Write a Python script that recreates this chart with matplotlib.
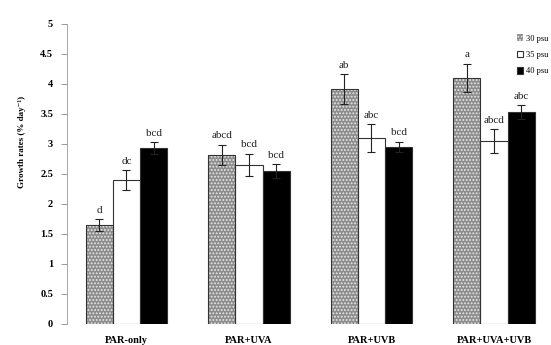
import matplotlib
matplotlib.use("Agg")
import matplotlib.pyplot as plt
import numpy as np

plt.rcParams['font.family'] = ['Liberation Serif', 'DejaVu Serif']
plt.rcParams['hatch.linewidth'] = 0.9

categories = ["PAR-only", "PAR+UVA", "PAR+UVB", "PAR+UVA+UVB"]
series_names = ["30 psu", "35 psu", "40 psu"]
vals_30 = [1.65, 2.82, 3.92, 4.10]
vals_35 = [2.40, 2.65, 3.10, 3.05]
vals_40 = [2.93, 2.55, 2.95, 3.53]
err_30 = [0.10, 0.17, 0.25, 0.24]
err_35 = [0.17, 0.19, 0.23, 0.20]
err_40 = [0.10, 0.11, 0.09, 0.12]
letters_30 = ["d", "abcd", "ab", "a"]
letters_35 = ["dc", "bcd", "abc", "abcd"]
letters_40 = ["bcd", "bcd", "bcd", "abc"]
yticks = [0, 0.5, 1, 1.5, 2, 2.5, 3, 3.5, 4, 4.5, 5]
ytick_labels = ["0", "0.5", "1", "1.5", "2", "2.5", "3", "3.5", "4", "4.5", "5"]

fig = plt.figure(figsize=(5.51, 3.45), dpi=100)
ax = fig.add_axes([0.1216, 0.0609, 0.8784, 0.8696])

x = np.arange(len(categories))
w = 0.222
series = [
    (vals_30, err_30, letters_30, '#8c8c8c'),
    (vals_35, err_35, letters_35, 'white'),
    (vals_40, err_40, letters_40, 'black'),
]
handles = []
for i, (v, e, lab, col) in enumerate(series):
    xs = x + (i - 1) * w
    if i == 0:
        b = ax.bar(xs, v, w, facecolor=col, hatch='.....', edgecolor='#e8e8e8', linewidth=0, zorder=2)
        ax.bar(xs, v, w, facecolor='none', edgecolor='#333333', linewidth=0.8, zorder=3)
    else:
        b = ax.bar(xs, v, w, facecolor=col, edgecolor='#333333', linewidth=0.8, zorder=2)
    handles.append(b)
    ax.errorbar(xs, v, yerr=e, fmt='none', ecolor='#222222', elinewidth=0.8, capsize=3, capthick=0.8, zorder=4)
    for xi, vi, ei, t in zip(xs, v, e, lab):
        ax.annotate(t, (xi, vi + ei), xytext=(0, 3), textcoords='offset points',
                    ha='center', va='bottom', fontsize=8, color='#222222')

ax.set_ylim(0, 5)
ax.set_xlim(-0.485, 3.465)
ax.set_yticks(yticks)
ax.set_yticklabels(ytick_labels, fontsize=7.5, fontweight='bold')
ax.set_xticks(x)
ax.set_xticklabels(categories, fontsize=7.5, fontweight='bold')
ax.tick_params(axis='x', length=0, pad=9)
ax.tick_params(axis='y', length=4, width=0.6, color='#888888', pad=6)
for s in ['top', 'right', 'bottom']:
    ax.spines[s].set_visible(False)
ax.spines['left'].set_color('#999999')
ax.spines['left'].set_linewidth(0.6)

fig.text(0.04, 0.59, "Growth rates (% day\u207b\u00b9)", rotation=90, ha='center', va='center',
         fontsize=6.5, fontweight='bold')

leg = ax.legend(handles, series_names, loc='upper right', bbox_to_anchor=(1.01, 0.99),
                frameon=False, fontsize=6, handlelength=0.8, handleheight=0.8,
                handletextpad=0.3, labelspacing=1.0)

fig.savefig("out.png", dpi=100)
